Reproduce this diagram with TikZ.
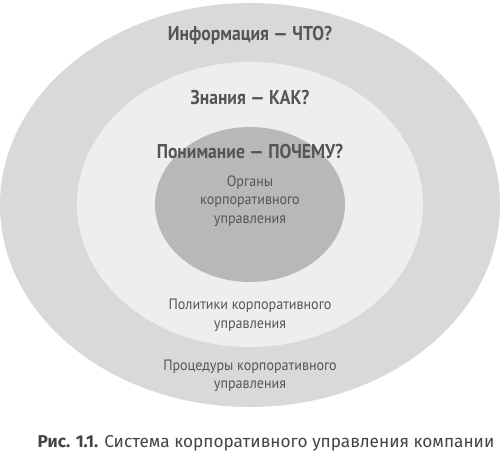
\documentclass[tikz,border=0pt]{standalone}
\usepackage{fontspec}
\setmainfont{PT Sans}
\newfontfamily\condfont[FakeStretch=0.88]{PT Sans}
\newfontfamily\lblfont[FakeStretch=0.94]{PT Sans}
\newfontfamily\capfont{Fira Sans}
\usetikzlibrary{shapes.geometric}
\definecolor{outerc}{HTML}{D9D9D9}
\definecolor{midc}{HTML}{EEEEEE}
\definecolor{innerc}{HTML}{B8B8B8}
\definecolor{txt}{HTML}{555555}
\definecolor{captxt}{HTML}{444444}
\tikzset{
  ring/.style={ellipse, inner sep=0pt, draw=none},
  head/.style={font=\condfont\bfseries\fontsize{20}{22}\selectfont, text=txt, inner sep=0pt},
  lbl/.style={font=\lblfont\fontsize{15}{18.5}\selectfont, text=txt, align=center, inner sep=0pt},
  captionstyle/.style={font=\capfont\fontsize{17.2}{19}\selectfont, text=captxt, inner sep=0pt}
}
\begin{document}
\begin{tikzpicture}[x=1pt,y=1pt]
\useasboundingbox (0,0) rectangle (500,-454);
\fill[white] (0,0) rectangle (500,-454);
\node[ring, fill=outerc, minimum width=500pt, minimum height=404pt] (outer) at (250,-205) {};
\node[ring, fill=midc, minimum width=346pt, minimum height=285pt] (mid) at (250,-204.5) {};
\node[ring, fill=innerc, minimum width=190pt, minimum height=155pt] (inner) at (250,-204.5) {};
\node[head] (info) at (250,-35) {Информация — ЧТО?};
\node[head] (know) at (250,-98) {Знания — КАК?};
\node[head] (underst) at (250,-152) {Понимание — ПОЧЕМУ?};
\node[lbl] (organs) at (250,-201) {Органы\\корпоративного\\управления};
\node[lbl] (policy) at (250,-315.5) {Политики корпоративного\\управления};
\node[lbl] (proc) at (250,-376) {Процедуры корпоративного\\управления};
\node[captionstyle] (caption) at (266,-443) {\textbf{Рис. 1.1.} Система корпоративного управления компании};
\end{tikzpicture}
\end{document}
